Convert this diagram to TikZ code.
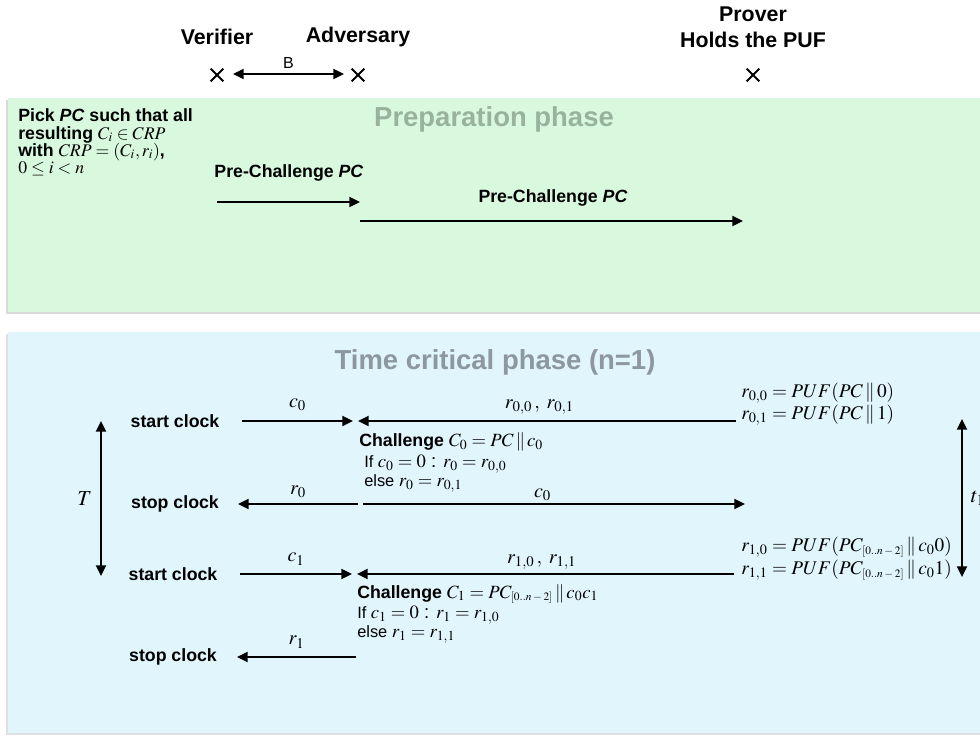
\documentclass[tikz,border=0pt]{standalone}
\usepackage{mathptmx}
\usepackage{fontspec}
\setmainfont{Liberation Sans}
\usetikzlibrary{arrows.meta,shapes.misc}
\definecolor{greenbg}{RGB}{217,249,223}
\definecolor{bluebg}{RGB}{225,245,253}
\definecolor{prepgray}{RGB}{152,178,157}
\definecolor{timegray}{RGB}{140,151,159}
\newcommand{\cc}{\,\|\,}
\newcommand{\rng}{\hbox{\fontsize{8.5}{9}\selectfont$[0..n-2]$}}
\begin{document}
\begin{tikzpicture}[x=0.75pt,y=-0.75pt,
  hdr/.style={font=\fontsize{16}{19.5}\selectfont\bfseries, inner sep=0pt},
  lbl/.style={font=\fontsize{13.3}{15}\selectfont\bfseries, inner sep=0pt},
  ttl/.style={font=\fontsize{20.6}{24}\selectfont\bfseries, inner sep=0pt},
  mth/.style={font=\fontsize{14.5}{17}\selectfont, inner sep=0pt},
  cmt/.style={font=\fontsize{12.3}{14}\selectfont, inner sep=0pt, anchor=west},
  chl/.style={font=\fontsize{13.3}{15}\selectfont, inner sep=0pt, anchor=west},
  xmark/.style={cross out, draw, line width=1.5pt, minimum size=8pt, inner sep=0pt},
  elab/.style={font=\fontsize{15}{17}\selectfont, inner sep=0pt},
  msg/.style={line width=1.5pt, -{Triangle[length=8pt,width=7.5pt]}},
  dbl/.style={line width=1.5pt, {Triangle[length=8pt,width=7.5pt]}-{Triangle[length=8pt,width=7.5pt]}}
]
\useasboundingbox (0,0) rectangle (980,735);
% panels
\fill[black!15] (6,100) rectangle (982,314);
\fill[greenbg] (8,98) rectangle (982,312);
\fill[black!12] (6,334) rectangle (982,735);
\fill[bluebg] (8,332) rectangle (982,733);

% header
\node[hdr] (ver) at (217,37) {Verifier};
\node[hdr] (adv) at (358,37) {Adversary};
\node[hdr, align=center] (prv) at (753,27) {Prover\\Holds the PUF};
\node[xmark] (vx) at (217,75) {};
\node[xmark] (ax) at (358,75) {};
\node[xmark] (px) at (753,75) {};
\coordinate (bl) at (233,74);
\coordinate (br) at (344,74);
\draw[dbl] (bl) -- node[above=3pt, font=\fontsize{12}{13}\selectfont, inner sep=0pt] {B} (br);

% preparation phase
\node[ttl, text=prepgray] (prep) at (494,119) {Preparation phase};
\node[lbl, anchor=base west] (pk1) at (18,121) {Pick \textit{PC} such that all};
\node[lbl, anchor=base west] (pk2) at (18,139) {resulting $C_i \in CRP$};
\node[lbl, anchor=base west] (pk3) at (18,156) {with $CRP = (C_i, r_i)$,};
\node[lbl, anchor=base west] (pk4) at (18,173) {$0 \le i < n$};
\node[lbl] (pre1) at (289,173) {Pre-Challenge \textit{PC}};
\coordinate (p1s) at (217,202);
\coordinate (p1e) at (360,202);
\draw[msg] (p1s) -- (p1e);
\node[lbl] (pre2) at (553,198) {Pre-Challenge \textit{PC}};
\coordinate (p2s) at (360,221);
\coordinate (p2e) at (743,221);
\draw[msg] (p2s) -- (p2e);

% time critical phase
\node[ttl, text=timegray] (tcp) at (495,362) {Time critical phase (n=1)};

% row 1
\node[lbl] (sc1) at (175,421) {start clock};
\coordinate (a1s) at (242,421);
\coordinate (a1e) at (353,421);
\draw[msg] (a1s) -- node[elab, above=7pt] {$c_0$} (a1e);
\coordinate (b1s) at (736,421);
\coordinate (b1e) at (358,421);
\draw[msg] (b1s) -- node[elab, above=4pt, pos=0.52] {$r_{0,0}\,,\; r_{0,1}$} (b1e);
\node[mth, anchor=west] (f00) at (741,393) {$r_{0,0} = PUF(PC\cc 0)$};
\node[mth, anchor=west] (f01) at (741,415) {$r_{0,1} = PUF(PC\cc 1)$};

\node[chl] (ch0) at (359,442) {\bfseries Challenge \fontsize{14}{16}\selectfont$C_0 = PC\cc c_0$};
\node[cmt] (if0) at (364,464) {If \fontsize{14}{16}\selectfont$c_0 = 0$ : $r_0 = r_{0,0}$};
\node[cmt] (el0) at (364,483) {else \fontsize{14}{16}\selectfont$r_0 = r_{0,1}$};

% row 2
\node[lbl] (st1) at (175,504) {stop clock};
\coordinate (a2s) at (358,504);
\coordinate (a2e) at (238,504);
\draw[msg] (a2s) -- node[elab, above=4pt] {$r_0$} (a2e);
\coordinate (b2s) at (363,504);
\coordinate (b2e) at (745,504);
\draw[msg] (b2s) -- node[elab, above=2pt, pos=0.47] {$c_0$} (b2e);

% T and t1
\coordinate (tT) at (101,421);
\coordinate (bT) at (101,576);
\draw[dbl] (tT) -- node[elab, left=6pt, font=\fontsize{16}{18}\selectfont] {$T$} (bT);
\coordinate (tt) at (962,419);
\coordinate (bt) at (962,577);
\draw[dbl] (tt) -- node[elab, right=6pt, font=\fontsize{16}{18}\selectfont] {$t_1$} (bt);

% row 3
\node[lbl] (sc2) at (173,574) {start clock};
\coordinate (a3s) at (240,574);
\coordinate (a3e) at (352,574);
\draw[msg] (a3s) -- node[elab, above=6pt] {$c_1$} (a3e);
\coordinate (b3s) at (734,574);
\coordinate (b3e) at (357,574);
\draw[msg] (b3s) -- node[elab, above=3pt, pos=0.51] {$r_{1,0}\,,\; r_{1,1}$} (b3e);
\node[mth, anchor=west] (f10) at (741,547) {$r_{1,0} = PUF(PC_{\rng}\cc c_0 0)$};
\node[mth, anchor=west] (f11) at (741,570) {$r_{1,1} = PUF(PC_{\rng}\cc c_0 1)$};

\node[chl] (ch1) at (357,594) {\bfseries Challenge \fontsize{14}{16}\selectfont$C_1 = PC_{\rng}\cc c_0c_1$};
\node[cmt] (if1) at (357,615) {If \fontsize{14}{16}\selectfont$c_1 = 0$ : $r_1 = r_{1,0}$};
\node[cmt] (el1) at (357,634) {else \fontsize{14}{16}\selectfont$r_1 = r_{1,1}$};

% row 4
\node[lbl] (st2) at (173,657) {stop clock};
\coordinate (a4s) at (356,657);
\coordinate (a4e) at (237,657);
\draw[msg] (a4s) -- node[elab, above=6pt] {$r_1$} (a4e);
\end{tikzpicture}
\end{document}
